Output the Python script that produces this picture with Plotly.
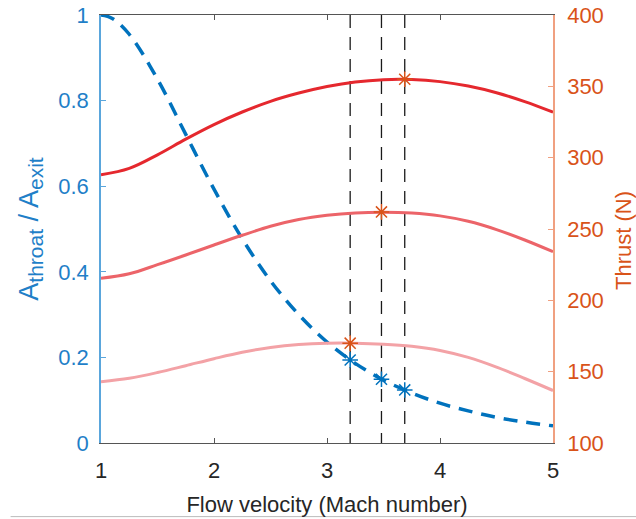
import plotly.graph_objects as go

# ---- data ----
mach = [1.0, 1.25, 1.5, 1.75, 2.0, 2.25, 2.5, 2.75, 3.0, 3.25, 3.5, 3.75, 4.0, 4.25, 4.5, 4.75, 5.0]
area_mach = [1.0, 1.1, 1.25, 1.5, 1.75, 2.0, 2.25, 2.5, 2.75, 3.0, 3.25, 3.5, 3.75, 4.0, 4.25, 4.5, 4.75, 5.0]
area_ratio = [1.0, 0.992, 0.955, 0.850, 0.721, 0.593, 0.477, 0.379, 0.300, 0.236, 0.186, 0.147, 0.117,
              0.093, 0.075, 0.060, 0.049, 0.040]
thrust_high = [288.0, 292.5, 302.0, 313.0, 323.2, 332.0, 339.5, 345.3, 349.9, 353.1, 354.7, 354.8,
               353.3, 350.2, 345.5, 339.3, 331.9]
thrust_mid = [215.4, 218.6, 225.0, 231.8, 238.8, 245.6, 251.9, 256.6, 259.6, 261.3, 261.8, 261.2,
              259.2, 255.4, 249.6, 242.3, 234.1]
thrust_low = [143.0, 145.4, 149.4, 154.2, 159.1, 163.6, 167.0, 169.1, 170.0, 170.0, 169.3, 167.8,
              164.9, 160.0, 153.2, 145.2, 136.8]
opt_mach = [3.205, 3.482, 3.688]
opt_area = [0.194, 0.149, 0.124]
opt_thrust = [170, 262, 355]

x_ticks = [1, 2, 3, 4, 5]
y_ticks = [0, 0.2, 0.4, 0.6, 0.8, 1]
y2_ticks = [100, 150, 200, 250, 300, 350, 400]

BLUE = "#0072BD"
BLUE_TXT = "#1f7fc8"
ORANGE = "#D95319"
DARK = "#262626"
FONT = "Liberation Sans, Arial, sans-serif"

fig = go.Figure()

# thrust curves (right axis)
for vals, col in [(thrust_low, "#F3A2A6"), (thrust_mid, "#EC6469"), (thrust_high, "#E5282E")]:
    fig.add_trace(go.Scatter(x=mach, y=vals, mode="lines", yaxis="y2",
                             line=dict(color=col, width=3, shape="spline", smoothing=1.0),
                             showlegend=False, hoverinfo="skip"))

# vertical dashed lines at optimum Mach numbers
for m in opt_mach:
    fig.add_trace(go.Scatter(x=[m, m], y=[y_ticks[-1], y_ticks[0]], mode="lines",
                             line=dict(color="#1a1a1a", width=1.3, dash="13px,9px"),
                             showlegend=False, hoverinfo="skip"))

# area ratio curve (left axis)
fig.add_trace(go.Scatter(x=area_mach, y=area_ratio, mode="lines",
                         line=dict(color=BLUE, width=3.5, dash="14px,9px", shape="spline"),
                         showlegend=False, hoverinfo="skip"))

fig.add_trace(go.Scatter(x=opt_mach, y=opt_area, mode="markers",
                         marker=dict(symbol="asterisk-open", size=13, color=BLUE,
                                     line=dict(color=BLUE, width=1.5)),
                         showlegend=False, hoverinfo="skip"))
fig.add_trace(go.Scatter(x=opt_mach, y=opt_thrust, mode="markers", yaxis="y2",
                         marker=dict(symbol="asterisk-open", size=13, color=ORANGE,
                                     line=dict(color=ORANGE, width=1.5)),
                         showlegend=False, hoverinfo="skip"))

fig.update_layout(
    width=636, height=519,
    margin=dict(l=101, r=83, t=15, b=76, autoexpand=False),
    paper_bgcolor="white", plot_bgcolor="white",
    font=dict(family=FONT, size=22, color=DARK),
    xaxis=dict(range=[1, 5], tickvals=x_ticks, ticktext=[str(v) for v in x_ticks],
               automargin=False,
               showgrid=False, zeroline=False, showline=True, linecolor="#555555", linewidth=1,
               mirror="ticks", ticks="inside", ticklen=5, tickcolor="#555555",
               tickfont=dict(size=22, color=DARK), ticklabelstandoff=8,
               title=dict(text="Flow velocity (Mach number)", font=dict(size=22, color=DARK),
                          standoff=14)),
    yaxis=dict(range=[0, 1], tickvals=y_ticks, ticktext=["0", "0.2", "0.4", "0.6", "0.8", "1"],
               automargin=False,
               showgrid=False, zeroline=False, showline=True, linecolor="#5aa6dc", linewidth=1.5,
               ticks="inside", ticklen=5, tickcolor="#5aa6dc",
               tickfont=dict(size=22, color=BLUE_TXT), ticklabelstandoff=6,
               title=dict(text="A<sub><span style='font-size:21px'>throat</span></sub> / "
                               "A<sub><span style='font-size:21px'>exit</span></sub>",
                          font=dict(size=27, color=BLUE_TXT), standoff=12)),
    yaxis2=dict(range=[100, 400], tickvals=y2_ticks, ticktext=[str(v) for v in y2_ticks],
                overlaying="y", side="right", anchor="x", automargin=False,
                showgrid=False, zeroline=False, showline=True, linecolor="#f0a080", linewidth=1.5,
                ticks="inside", ticklen=5, tickcolor="#f0a080",
                tickfont=dict(size=22, color=ORANGE), ticklabelstandoff=8),
    annotations=[dict(text="Thrust (N)", xref="paper", yref="paper", x=1.1570, y=0.4743,
                      xanchor="center", yanchor="middle", textangle=-90, showarrow=False,
                      font=dict(size=22, color=ORANGE, family=FONT))],
    shapes=[dict(type="line", xref="paper", yref="paper", x0=-0.2, x1=1.2,
                 y0=-0.172, y1=-0.172, line=dict(color="#bbbbbb", width=1))],
)

fig.write_html("out.html")
